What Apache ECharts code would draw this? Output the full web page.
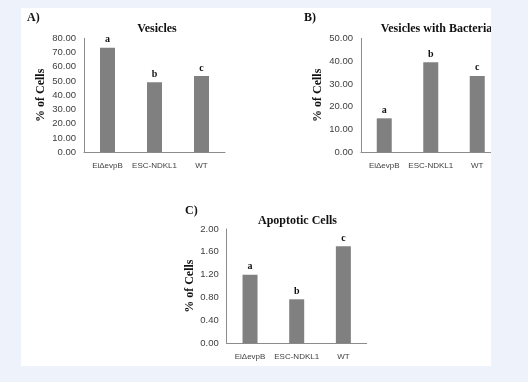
<!DOCTYPE html>
<html>
<head>
<meta charset="utf-8">
<script src="https://cdn.jsdelivr.net/npm/echarts@6/dist/echarts.min.js"></script>
<style>
html,body{margin:0;padding:0;background:#eef2fa;}
#c{width:528px;height:382px;}
</style>
</head>
<body>
<div id="c"></div>
<script>
const categories = ['EiΔevpB', 'ESC-NDKL1', 'WT'];
const letters = ['a', 'b', 'c'];
const vesicles = [73.4, 49.1, 53.5];
const vesiclesBacteria = [14.9, 39.5, 33.5];
const apoptotic = [1.20, 0.77, 1.70];
const titles = ['Vesicles', 'Vesicles with Bacteria', 'Apoptotic Cells'];
const panelTags = ['A)', 'B)', 'C)'];
const yMax = [80, 50, 2];
const yInterval = [10, 10, 0.4];

const chart = echarts.init(document.getElementById('c'), null, {renderer: 'canvas'});
const serif = '"Liberation Serif", "Times New Roman", serif';
const sans = '"Liberation Sans Narrow", "Liberation Sans", Arial, sans-serif';
const grids = [
  {left: 84, top: 38.3, width: 141, height: 114},
  {left: 361, top: 38.3, width: 139.5, height: 114},
  {left: 226.7, top: 229, width: 140, height: 114.3}
];
const nameGaps = [37, 37, 31];
const seriesData = [vesicles, vesiclesBacteria, apoptotic];
const titlePos = [[152, 18], [431.5, 18], [292.5, 210]];
const tagPos = [[27, 12], [304, 12], [185, 205]];

const option = {
  backgroundColor: '#eef2fa',
  animation: false,
  title: titles.map((t, i) => ({
    text: t, left: titlePos[i][0], top: titlePos[i][1], textAlign: 'center',
    textStyle: {fontFamily: serif, fontWeight: 'bold', fontSize: 12, color: '#111'}
  })),
  grid: grids,
  xAxis: grids.map((g, i) => ({
    type: 'category', gridIndex: i, data: categories,
    axisLine: {lineStyle: {color: '#8c8c8c', width: 1}},
    axisTick: {show: false},
    axisLabel: {interval: 0, fontFamily: sans, fontSize: 8, color: '#404040', margin: 9}
  })),
  yAxis: grids.map((g, i) => ({
    type: 'value', gridIndex: i, min: 0, max: yMax[i], interval: yInterval[i],
    name: '% of Cells', nameLocation: 'middle', nameGap: nameGaps[i], nameRotate: 90,
    nameTextStyle: {fontFamily: serif, fontWeight: 'bold', fontSize: 12, color: '#111'},
    axisLine: {show: true, lineStyle: {color: '#8c8c8c', width: 1}},
    axisTick: {show: false},
    splitLine: {show: false},
    axisLabel: {fontFamily: '"Liberation Sans", Arial, sans-serif', fontSize: 9.5, color: '#404040', margin: 8,
      formatter: v => v.toFixed(2)}
  })),
  series: seriesData.map((d, i) => ({
    type: 'bar', xAxisIndex: i, yAxisIndex: i, data: d, barWidth: 15,
    itemStyle: {color: '#808080'},
    label: {show: true, position: 'top', distance: 3,
      formatter: p => letters[p.dataIndex],
      fontFamily: serif, fontWeight: 'bold', fontSize: 10, color: '#111'}
  })),
  graphic: [
    {type: 'rect', shape: {x: 21, y: 8, width: 470, height: 358}, style: {fill: '#ffffff'}, z: -10, silent: true},
    {type: 'rect', shape: {x: 491, y: 0, width: 37, height: 382}, style: {fill: '#eef2fa'}, z: 100, silent: true}
  ].concat(panelTags.map((t, i) => ({
    type: 'text', x: tagPos[i][0], y: tagPos[i][1], z: 100,
    style: {text: t, font: 'bold 12px ' + serif, fill: '#111'}
  })))
};
chart.setOption(option);
</script>
</body>
</html>
